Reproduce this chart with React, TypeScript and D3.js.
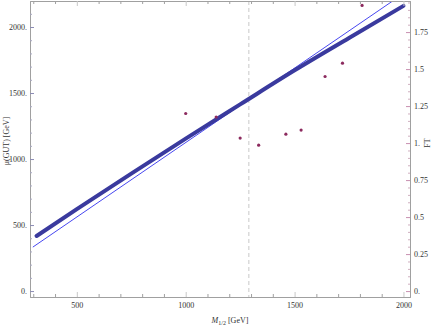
// App.tsx
import React, { useEffect, useRef } from "react";
import * as d3 from "d3";

// thick curve: mu(GUT) vs M1/2
const thickX = [315, 500, 750, 1000, 1250, 1500, 1750, 2000];
const thickY = [417, 620, 890, 1155, 1414, 1672, 1917, 2160];

// thin straight line
const thinX = [298, 2000];
const thinY = [333, 2253];

// FT points (right axis)
const ftX = [1000, 1140, 1250, 1335, 1460, 1530, 1640, 1720, 1810];
const ftY = [1.2, 1.176, 1.034, 0.986, 1.06, 1.088, 1.45, 1.54, 1.93];

const xTicks = [500, 1000, 1500, 2000];
const leftTicks = [0, 500, 1000, 1500, 2000];
const rightTicks = [0, 0.25, 0.5, 0.75, 1, 1.25, 1.5, 1.75];
const dashedAt = 1290;

const App = () => {
  const ref = useRef<SVGSVGElement | null>(null);

  useEffect(() => {
    const svg = d3.select(ref.current);
    svg.selectAll("*").remove();

    const width = 436;
    const height = 327;
    const left = 30;
    const right = 410;
    const top = 1;
    const bottom = 297;

    const x = d3.scaleLinear().domain([285, 2030]).range([left, right]);
    const yL = d3.scaleLinear().domain([-45, 2197]).range([bottom, top]);
    const yR = d3.scaleLinear().domain([-0.04, 1.96]).range([bottom, top]);

    const font = "'Liberation Serif', 'Times New Roman', serif";

    svg.attr("width", width).attr("height", height);

    svg
      .append("defs")
      .append("clipPath")
      .attr("id", "plot-clip")
      .append("rect")
      .attr("x", left)
      .attr("y", top)
      .attr("width", right - left)
      .attr("height", bottom - top);

    // dashed vertical line
    svg
      .append("line")
      .attr("x1", x(dashedAt))
      .attr("x2", x(dashedAt))
      .attr("y1", top)
      .attr("y2", bottom)
      .attr("stroke", "#c8c8c8")
      .attr("stroke-width", 1)
      .attr("stroke-dasharray", "4,3");

    const plot = svg.append("g").attr("clip-path", "url(#plot-clip)");

    // thin line
    const thinLine = d3
      .line<number>()
      .x((d, i) => x(thinX[i]))
      .y((d) => yL(d));
    plot
      .append("path")
      .attr("d", thinLine(thinY))
      .attr("fill", "none")
      .attr("stroke", "#4747f0")
      .attr("stroke-width", 1);

    // thick curve
    const thickLine = d3
      .line<number>()
      .x((d, i) => x(thickX[i]))
      .y((d) => yL(d))
      .curve(d3.curveMonotoneX);
    plot
      .append("path")
      .attr("d", thickLine(thickY))
      .attr("fill", "none")
      .attr("stroke", "#3a3a9e")
      .attr("stroke-width", 4)
      .attr("stroke-linecap", "round");

    // FT points
    plot
      .selectAll(".pt")
      .data(ftX)
      .enter()
      .append("circle")
      .attr("class", "pt")
      .attr("cx", (d) => x(d))
      .attr("cy", (d, i) => yR(ftY[i]))
      .attr("r", 1.6)
      .attr("fill", "#8c2a5e");

    const styleAxis = (g: any, color: string) => {
      g.select(".domain").attr("stroke", "#a0a0a0");
      g.selectAll("line").attr("stroke", color);
      g.selectAll("text")
        .style("fill", "#333")
        .style("font-family", font)
        .style("font-size", "8px");
    };

    const minorX = d3.range(300, 2001, 100).filter((v) => v % 500 !== 0);
    const minorL = d3.range(0, 2101, 100).filter((v) => v % 500 !== 0);
    const minorR = d3.range(0, 1.951, 0.05).filter((v) => Math.abs(v / 0.25 - Math.round(v / 0.25)) > 1e-6);

    // bottom axis
    const gb = svg
      .append("g")
      .attr("transform", `translate(0,${bottom})`)
      .call(d3.axisBottom(x).tickValues(xTicks).tickSize(-5).tickPadding(5).tickFormat((d) => `${d}`));
    styleAxis(gb, "#c8c8c8");
    svg
      .append("g")
      .attr("transform", `translate(0,${bottom})`)
      .call(d3.axisBottom(x).tickValues(minorX).tickSize(-3).tickFormat(() => ""))
      .call((g) => {
        g.select(".domain").remove();
        g.selectAll("line").attr("stroke", "#a0a0a0");
      });

    // top frame
    svg
      .append("g")
      .attr("transform", `translate(0,${top})`)
      .call(d3.axisTop(x).tickValues(minorX).tickSize(-3).tickFormat(() => ""))
      .call((g) => {
        g.select(".domain").attr("stroke", "#a0a0a0");
        g.selectAll("line").attr("stroke", "#a0a0a0");
      });
    svg
      .append("g")
      .attr("transform", `translate(0,${top})`)
      .call(d3.axisTop(x).tickValues(xTicks).tickSize(-5).tickFormat(() => ""))
      .call((g) => {
        g.select(".domain").remove();
        g.selectAll("line").attr("stroke", "#c8c8c8");
      });

    // left axis
    const gl = svg
      .append("g")
      .attr("transform", `translate(${left},0)`)
      .call(d3.axisLeft(yL).tickValues(leftTicks).tickSize(-4).tickPadding(3).tickFormat((d) => `${d}.`));
    styleAxis(gl, "#8c8cb4");
    svg
      .append("g")
      .attr("transform", `translate(${left},0)`)
      .call(d3.axisLeft(yL).tickValues(minorL).tickSize(-2).tickFormat(() => ""))
      .call((g) => {
        g.select(".domain").remove();
        g.selectAll("line").attr("stroke", "#a8a8c0");
      });

    // right axis
    const gr = svg
      .append("g")
      .attr("transform", `translate(${right},0)`)
      .call(
        d3
          .axisRight(yR)
          .tickValues(rightTicks)
          .tickSize(-4)
          .tickPadding(4)
          .tickFormat((d: any) => (Number.isInteger(d) ? `${d}.` : `${d}`))
      );
    styleAxis(gr, "#c890b0");
    svg
      .append("g")
      .attr("transform", `translate(${right},0)`)
      .call(d3.axisRight(yR).tickValues(minorR).tickSize(-2).tickFormat(() => ""))
      .call((g) => {
        g.select(".domain").remove();
        g.selectAll("line").attr("stroke", "#d0b0c0");
      });

    // axis titles
    const xt = svg
      .append("text")
      .attr("x", (left + right) / 2 + 10)
      .attr("y", 323)
      .attr("text-anchor", "middle")
      .style("fill", "#333")
      .style("font-family", font)
      .style("font-size", "8px");
    xt.append("tspan").style("font-style", "italic").text("M");
    xt.append("tspan").attr("dy", 2).style("font-size", "6px").text("1/2");
    xt.append("tspan").attr("dy", -2).text(" [GeV]");

    svg
      .append("text")
      .attr("transform", `translate(9,${(top + bottom) / 2 - 8}) rotate(-90)`)
      .attr("text-anchor", "middle")
      .style("fill", "#333")
      .style("font-family", font)
      .style("font-size", "8px")
      .text("μ(GUT) [GeV]");

    svg
      .append("text")
      .attr("transform", `translate(430,${yR(1)}) rotate(-90)`)
      .attr("text-anchor", "middle")
      .style("fill", "#333")
      .style("font-family", font)
      .style("font-size", "8px")
      .text("FT");
  }, []);

  return (
    <div style={{ position: "absolute", left: 0, top: 0 }}>
      <svg ref={ref}></svg>
    </div>
  );
};

export default App;
